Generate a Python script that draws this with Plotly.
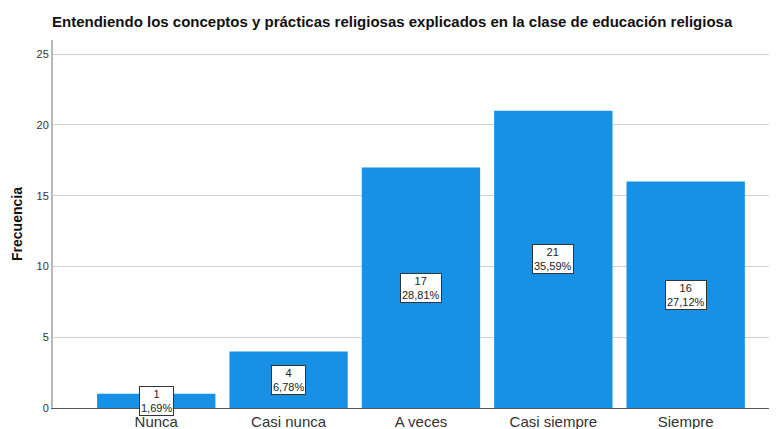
import plotly.graph_objects as go

categories = ["Nunca", "Casi nunca", "A veces", "Casi siempre", "Siempre"]
counts = [1, 4, 17, 21, 16]
percent_labels = ["1,69%", "6,78%", "28,81%", "35,59%", "27,12%"]
y_ticks = [0, 5, 10, 15, 20, 25]

# page body has an 8px default margin, so the figure is sized to fit the window
W, H = 769, 421

fig = go.Figure()
fig.add_trace(go.Bar(
    x=list(range(len(categories))), y=counts,
    marker=dict(color="#1691e6", line=dict(width=0)),
    hoverinfo="skip",
))

for i, (c, p) in enumerate(zip(counts, percent_labels)):
    fig.add_annotation(
        x=i, y=c / 2, xref="x", yref="y",
        text=f"{c}<br>{p}", showarrow=False,
        font=dict(family="Liberation Sans, Arial, sans-serif", size=11, color="#222"),
        bgcolor="white", bordercolor="#333", borderwidth=1, borderpad=1,
    )

fig.update_layout(
    width=W, height=H,
    margin=dict(l=45, r=0, t=32, b=21),
    paper_bgcolor="white", plot_bgcolor="white",
    bargap=0.106,
    showlegend=False,
    title=dict(
        text="<b>Entendiendo los conceptos y prácticas religiosas explicados en la clase de educación religiosa</b>",
        x=44 / W, xanchor="left", y=1 - 14 / H, yanchor="middle",
        font=dict(family="Liberation Sans, Arial, sans-serif", size=15, color="#111"),
    ),
    font=dict(family="Liberation Sans, Arial, sans-serif"),
)

fig.update_xaxes(
    tickmode="array", tickvals=list(range(len(categories))), ticktext=categories,
    range=[-0.78, 4.69], automargin=False,
    showgrid=False, zeroline=False,
    showline=True, linecolor="#555", linewidth=1,
    ticks="", tickfont=dict(size=15, color="#333"),
)
fig.update_yaxes(
    range=[0, 26], tickvals=y_ticks, automargin=False,
    showgrid=True, gridcolor="#d0d0d0", gridwidth=1,
    zeroline=False, showline=True, linecolor="#b8b8b8", linewidth=2,
    ticks="", tickfont=dict(size=11, color="#333"),
    title=dict(text="<b>Frecuencia</b>", font=dict(size=14, color="#111"), standoff=11),
)

fig.write_html("out.html")
